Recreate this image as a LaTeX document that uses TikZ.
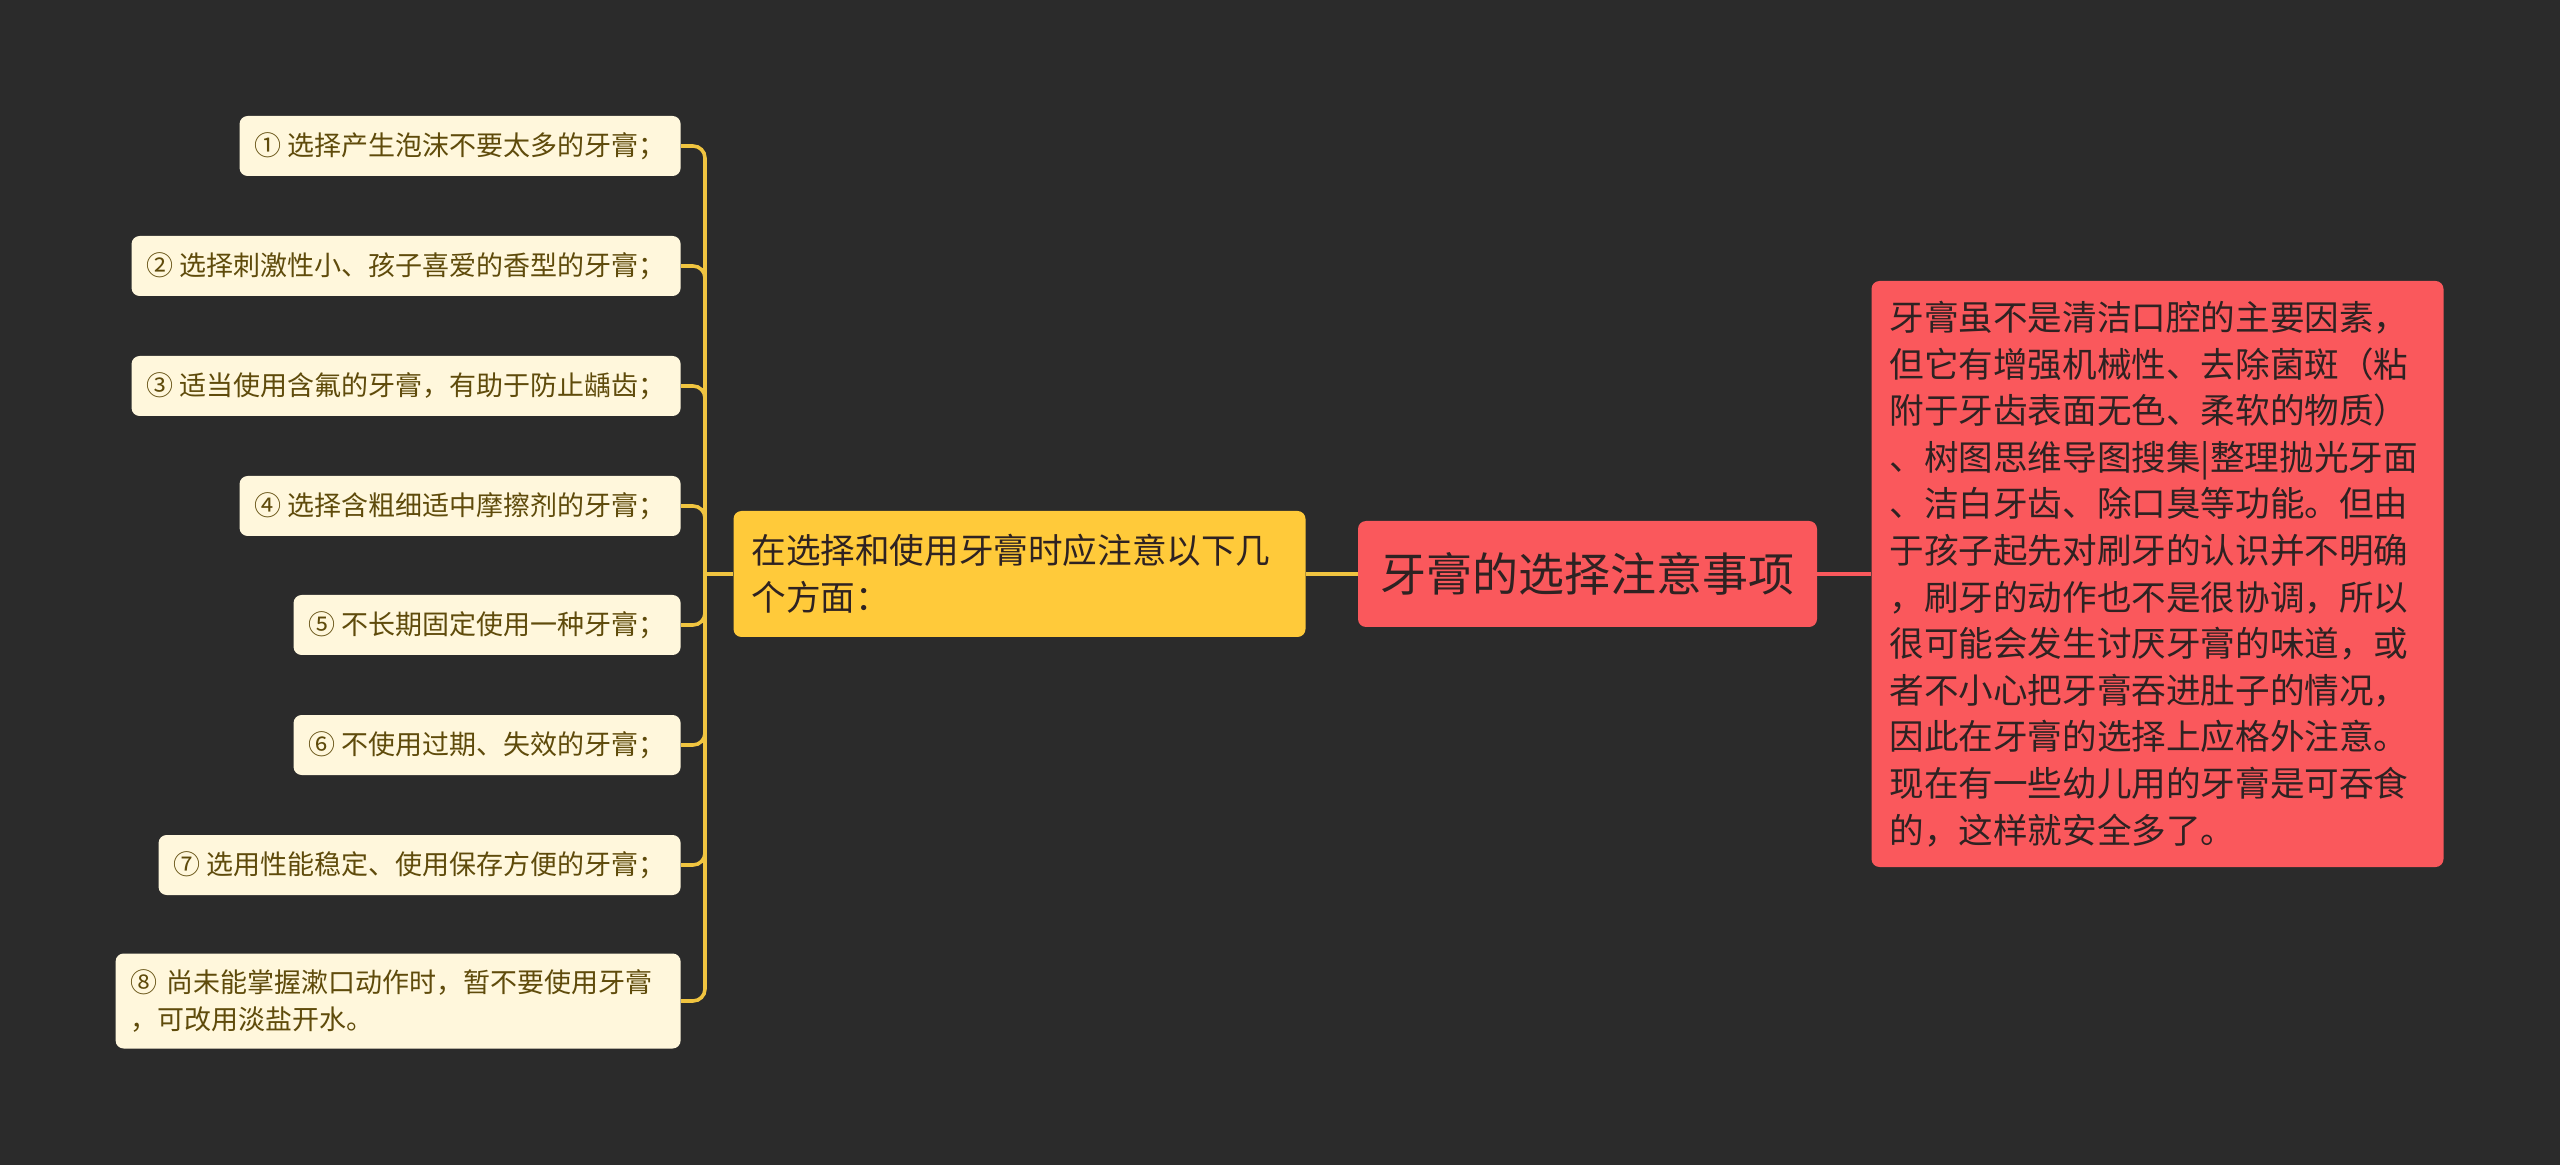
\documentclass[tikz,border=0pt]{standalone}
\usepackage{fontspec}
\setmainfont{Noto Sans CJK SC}
\usetikzlibrary{positioning, calc}

\definecolor{bgdark}{HTML}{2B2B2B}
\definecolor{leaffill}{HTML}{FFF7DC}
\definecolor{leaftext}{HTML}{5F4B0B}
\definecolor{midyellow}{HTML}{FFCA3A}
\definecolor{rootred}{HTML}{FA585C}
\definecolor{linkyellow}{HTML}{F0C440}
\definecolor{darktext}{HTML}{2E2222}

\begin{document}
\begin{tikzpicture}[x=0.5pt, y=-0.5pt,
    leaf/.style={fill=leaffill, text=leaftext, rounded corners=4pt, anchor=east,
        minimum height=30pt, inner xsep=7.5pt, inner ysep=4pt, align=left,
        font=\fontsize{13.5}{18.8}\selectfont},
    midbox/.style={fill=midyellow, text=darktext, rounded corners=4pt,
        text width=268pt, inner xsep=9pt, minimum height=63pt, align=left,
        font=\fontsize{17.3}{23.5}\selectfont},
    rootbox/.style={fill=rootred, text=darktext, rounded corners=4pt,
        minimum width=229.5pt, minimum height=53pt,
        font=\fontsize{23}{28}\selectfont},
    descbox/.style={fill=rootred, text=darktext, rounded corners=4pt,
        text width=268pt, inner xsep=9pt, minimum height=293pt, align=left,
        font=\fontsize{17.3}{23.3}\selectfont},
    yline/.style={draw=linkyellow, line width=1.8pt},
    rline/.style={draw=rootred, line width=1.8pt}]
    \fill[bgdark] (0,0) rectangle (2560,1165);
    \useasboundingbox (0,0) rectangle (2560,1165);

    % centre and right side
    \node[midbox] (mid) at (1019.5,574) {在选择和使用牙膏时应注意以下几\\个方面：};
    \node[rootbox] (root) at (1587.5,574) {牙膏的选择注意事项};
    \node[descbox] (desc) at (2157.5,574) {牙膏虽不是清洁口腔的主要因素，\\
        但它有增强机械性、去除菌斑（粘\\
        附于牙齿表面无色、柔软的物质）\\
        、树图思维导图搜集|整理抛光牙面\\
        、洁白牙齿、除口臭等功能。但由\\
        于孩子起先对刷牙的认识并不明确\\
        ，刷牙的动作也不是很协调，所以\\
        很可能会发生讨厌牙膏的味道，或\\
        者不小心把牙膏吞进肚子的情况，\\
        因此在牙膏的选择上应格外注意。\\
        现在有一些幼儿用的牙膏是可吞食\\
        的，这样就安全多了。};

    % leaves
    \node[leaf] (l1) at (681,146) {① 选择产生泡沫不要太多的牙膏；};
    \node[leaf] (l2) at (681,266) {② 选择刺激性小、孩子喜爱的香型的牙膏；};
    \node[leaf] (l3) at (681,386) {③ 适当使用含氟的牙膏，有助于防止龋齿；};
    \node[leaf] (l4) at (681,506) {④ 选择含粗细适中摩擦剂的牙膏；};
    \node[leaf] (l5) at (681,625) {⑤ 不长期固定使用一种牙膏；};
    \node[leaf] (l6) at (681,745) {⑥ 不使用过期、失效的牙膏；};
    \node[leaf] (l7) at (681,865) {⑦ 选用性能稳定、使用保存方便的牙膏；};
    \node[leaf, minimum height=47.5pt, text width=267.5pt] (l8) at (681,1001) {⑧ 尚未能掌握漱口动作时，暂不要使用牙膏\\，可改用淡盐开水。};

    % connectors
    \coordinate (bus) at (705,574);
    \draw[yline] (mid.west) -- (bus);
    \draw[yline, rounded corners=6pt] (bus) |- (l1.east);
    \draw[yline, rounded corners=6pt] (bus) |- (l2.east);
    \draw[yline, rounded corners=6pt] (bus) |- (l3.east);
    \draw[yline, rounded corners=6pt] (bus) |- (l4.east);
    \draw[yline, rounded corners=6pt] (bus) |- (l5.east);
    \draw[yline, rounded corners=6pt] (bus) |- (l6.east);
    \draw[yline, rounded corners=6pt] (bus) |- (l7.east);
    \draw[yline, rounded corners=6pt] (bus) |- (l8.east);
    \draw[yline] (mid.east) -- (root.west);
    \draw[rline] (root.east) -- (desc.west);
\end{tikzpicture}
\end{document}
